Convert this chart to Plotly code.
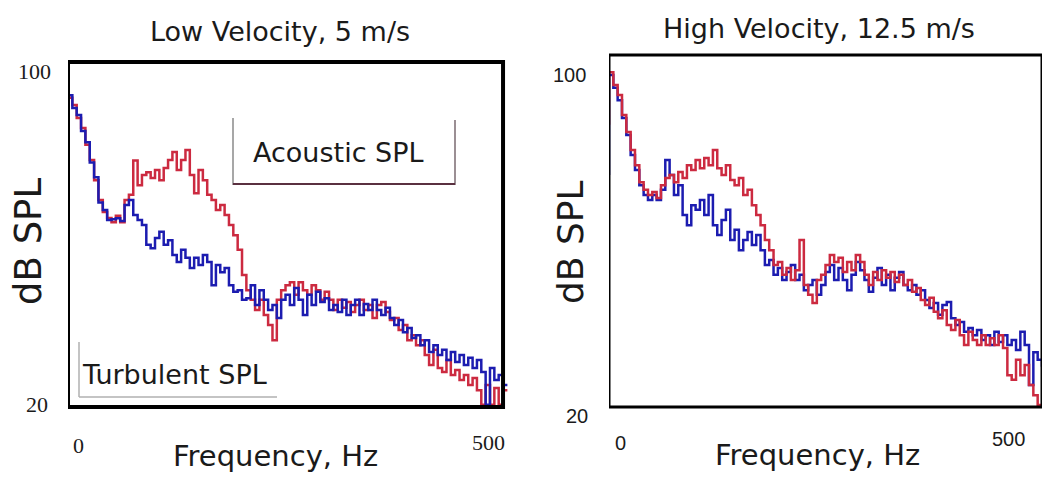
import plotly.graph_objects as go

W, H = 1044, 477

# Frequency bins (Hz)
FREQ_HZ = [
    0, 5, 10, 15, 20, 25, 30, 35, 40, 45,
    50, 55, 60, 65, 70, 75, 80, 85, 90, 95,
    100, 105, 110, 115, 120, 125, 130, 135, 140, 145,
    150, 155, 160, 165, 170, 175, 180, 185, 190, 195,
    200, 205, 210, 215, 220, 225, 230, 235, 240, 245,
    250, 255, 260, 265, 270, 275, 280, 285, 290, 295,
    300, 305, 310, 315, 320, 325, 330, 335, 340, 345,
    350, 355, 360, 365, 370, 375, 380, 385, 390, 395,
    400, 405, 410, 415, 420, 425, 430, 435, 440, 445,
    450, 455, 460, 465, 470, 475, 480, 485, 490, 495,
    500, 505,
]

# Low velocity (5 m/s), dB SPL
LOW_ACOUSTIC = [
    94.8, 92.9, 91.2, 88.1, 85.7, 81.7, 78.1, 73.3, 68.6, 65.7,
    64.3, 63.3, 64.8, 63.3, 68.6, 69.8, 78.0, 72.1, 74.5, 75.2,
    73.8, 75.7, 73.3, 76.2, 78.1, 80.0, 75.7, 78.1, 80.5, 74.5,
    70.2, 75.7, 73.3, 69.8, 68.6, 66.2, 67.4, 65.0, 62.6, 60.2,
    56.7, 50.7, 47.1, 44.8, 42.4, 44.8, 41.2, 38.8, 35.2, 44.8,
    47.1, 48.3, 49.0, 46.0, 49.0, 47.1, 46.0, 48.3, 47.1, 44.8,
    46.7, 44.8, 42.4, 44.8, 42.9, 44.3, 41.9, 43.6, 44.8, 42.4,
    43.6, 40.5, 43.6, 44.3, 41.9, 40.0, 40.5, 37.6, 38.8, 35.2,
    36.4, 34.0, 35.2, 31.7, 29.3, 32.9, 28.6, 27.6, 30.5, 26.9,
    28.1, 25.7, 26.9, 24.5, 26.2, 23.3, 19.8, 24.5, 19.8, 23.8,
    19.8, 23.3,
]
LOW_TURBULENT = [
    95.5, 93.5, 90.5, 88.8, 85.0, 82.3, 77.5, 74.0, 68.0, 66.2,
    63.8, 64.0, 64.2, 63.6, 67.4, 68.6, 65.0, 63.8, 62.6, 57.9,
    57.1, 59.5, 61.0, 57.9, 59.0, 55.5, 53.8, 56.7, 54.8, 52.4,
    54.8, 53.1, 55.5, 53.8, 48.3, 53.1, 51.4, 52.4, 48.3, 46.7,
    47.1, 44.8, 45.2, 48.3, 43.6, 47.1, 44.8, 42.4, 43.6, 40.5,
    44.8, 46.0, 43.6, 47.6, 44.8, 41.2, 46.0, 43.6, 46.7, 44.3,
    45.2, 42.4, 43.6, 41.9, 44.8, 41.2, 43.6, 44.8, 41.2, 43.8,
    42.4, 44.8, 42.4, 41.2, 42.9, 40.5, 38.8, 40.0, 37.1, 38.1,
    35.7, 36.4, 34.0, 35.2, 32.4, 34.0, 31.7, 32.9, 30.5, 32.4,
    30.0, 31.7, 29.3, 31.0, 28.6, 30.5, 27.6, 19.8, 28.6, 25.7,
    26.9, 24.5,
]

# High velocity (12.5 m/s), dB SPL
HIGH_ACOUSTIC = [
    87.1, 99.5, 96.5, 94.1, 89.4, 85.4, 81.2, 77.6, 73.6, 71.8,
    70.6, 71.3, 69.9, 72.9, 74.6, 75.3, 73.6, 76.0, 74.6, 77.6,
    76.5, 78.8, 76.9, 79.3, 77.6, 81.2, 76.9, 75.3, 77.6, 74.1,
    72.9, 74.6, 70.6, 71.8, 68.2, 65.9, 63.5, 60.0, 57.6, 54.1,
    54.8, 51.8, 53.4, 50.6, 52.9, 60.0, 49.4, 47.1, 45.2, 50.6,
    51.8, 54.1, 56.5, 54.8, 55.8, 52.5, 54.8, 52.9, 56.5, 54.8,
    51.8, 49.4, 52.5, 50.6, 52.9, 51.1, 52.5, 50.1, 51.8, 49.4,
    50.6, 47.8, 48.7, 45.9, 44.7, 46.4, 43.1, 41.6, 43.5, 40.0,
    38.8, 41.2, 37.6, 35.3, 38.4, 36.5, 35.3, 37.6, 35.3, 36.9,
    35.3, 37.6, 34.6, 28.2, 27.1, 31.8, 28.2, 30.6, 25.9, 23.5,
    21.2, 21.0,
]
HIGH_TURBULENT = [
    75.3, 98.8, 95.8, 92.9, 88.7, 84.7, 80.0, 76.5, 72.9, 70.6,
    69.4, 70.6, 69.4, 71.8, 78.8, 75.3, 70.6, 72.9, 65.9, 63.5,
    68.2, 67.1, 69.4, 65.9, 70.6, 63.5, 61.2, 64.7, 67.1, 60.0,
    62.4, 57.6, 60.0, 61.9, 58.8, 61.2, 57.6, 54.1, 55.3, 51.8,
    53.4, 50.6, 52.5, 54.1, 50.6, 51.8, 48.2, 49.4, 50.6, 47.1,
    49.4, 52.5, 54.1, 50.6, 53.4, 50.6, 48.2, 51.8, 54.8, 52.9,
    50.6, 47.8, 51.1, 53.4, 49.4, 51.8, 48.2, 51.1, 52.5, 49.4,
    48.2, 49.4, 47.1, 48.2, 45.9, 44.0, 45.2, 42.4, 44.7, 45.4,
    41.6, 40.0, 40.7, 38.4, 39.3, 37.6, 38.8, 36.5, 37.6, 35.3,
    38.4, 36.0, 37.6, 35.3, 36.5, 34.1, 38.4, 35.3, 25.9, 33.6,
    31.8, 30.5,
]

TITLES = ["Low Velocity, 5 m/s", "High Velocity, 12.5 m/s"]
X_LABEL = "Frequency, Hz"
Y_LABEL = "dB SPL"
Y_TICK_LABELS = ["100", "20"]
X_TICK_LABELS = ["0", "500"]

RED = "#cc2a40"
BLUE = "#1c1cb0"
SANS = "DejaVu Sans"


def px(x):
    return x / W


def py(y):
    return 1 - y / H


fig = go.Figure()

# Left panel: acoustic (red) under turbulent (blue)
fig.add_trace(go.Scatter(x=FREQ_HZ, y=LOW_ACOUSTIC, mode="lines", line_shape="vh",
                         line=dict(color=RED, width=2.5), xaxis="x", yaxis="y"))
fig.add_trace(go.Scatter(x=FREQ_HZ, y=LOW_TURBULENT, mode="lines", line_shape="vh",
                         line=dict(color=BLUE, width=2.5), xaxis="x", yaxis="y"))
# Right panel: turbulent (blue) under acoustic (red)
fig.add_trace(go.Scatter(x=FREQ_HZ, y=HIGH_TURBULENT, mode="lines", line_shape="vh",
                         line=dict(color=BLUE, width=2.5), xaxis="x2", yaxis="y2"))
fig.add_trace(go.Scatter(x=FREQ_HZ, y=HIGH_ACOUSTIC, mode="lines", line_shape="vh",
                         line=dict(color=RED, width=2.5), xaxis="x2", yaxis="y2"))

hidden = dict(showgrid=False, zeroline=False, showticklabels=False, ticks="", showline=False)

fig.update_layout(
    width=W, height=H,
    margin=dict(l=0, r=0, t=0, b=0),
    paper_bgcolor="white", plot_bgcolor="white",
    showlegend=False,
    xaxis=dict(domain=[px(68), px(510)], range=[0, 508], anchor="y", **hidden),
    yaxis=dict(domain=[py(407), py(62)], range=[19.29, 101.43], anchor="x", **hidden),
    xaxis2=dict(domain=[px(609), px(1042)], range=[0, 500], anchor="y2", **hidden),
    yaxis2=dict(domain=[py(407), py(55)], range=[20.71, 103.53], anchor="x2", **hidden),
)

# Plot frames
fig.add_shape(type="rect", xref="x", yref="y domain", x0=0, x1=500, y0=0, y1=1,
              line=dict(color="black", width=4))
fig.add_shape(type="rect", xref="x2", yref="y2 domain", x0=0, x1=500, y0=0, y1=1,
              line=dict(color="black", width=3))


def seg(x0, y0, x1, y1, color, width):
    fig.add_shape(type="line", xref="paper", yref="paper",
                  x0=px(x0), y0=py(y0), x1=px(x1), y1=py(y1),
                  line=dict(color=color, width=width))


# Label boxes
seg(233, 118, 233, 185, "#8a8a8a", 1.5)
seg(455, 120, 455, 185, "#7a6a70", 1.5)
seg(233, 184, 455, 184, "#5a3040", 2)
seg(79, 342, 79, 397, "#b0b0b0", 1.5)
seg(79, 397, 277, 397, "#b0b0b0", 1.5)


def text(x, y, s, size, family=SANS, angle=0):
    fig.add_annotation(x=px(x), y=py(y), xref="paper", yref="paper", text=s,
                       showarrow=False, xanchor="center", yanchor="middle",
                       textangle=angle, font=dict(family=family, size=size, color="#1a1a1a"))


# Titles
text(280, 31, TITLES[0], 27)
text(819, 28, TITLES[1], 27)
# Axis titles
text(275, 456, X_LABEL, 29)
text(817, 455, X_LABEL, 29)
text(29, 242, Y_LABEL, 37, angle=-90)
text(571, 242, Y_LABEL, 36, angle=-90)
# Tick labels
text(34, 71, Y_TICK_LABELS[0], 22, "Liberation Serif")
text(37, 404, Y_TICK_LABELS[1], 22, "Liberation Serif")
text(78, 445, X_TICK_LABELS[0], 22, "Liberation Serif")
text(488, 442, X_TICK_LABELS[1], 22, "Liberation Serif")
text(569, 75, Y_TICK_LABELS[0], 20, "Liberation Sans")
text(577, 416, Y_TICK_LABELS[1], 20, "Liberation Sans")
text(620, 443, X_TICK_LABELS[0], 20, "Liberation Sans")
text(1008, 439, X_TICK_LABELS[1], 20, "Liberation Sans")
# Series labels
text(338, 153, "Acoustic SPL", 27)
text(174, 374, "Turbulent SPL", 27)

# Page has default body margin; drop it so the figure sits at the window origin
fig.write_html("out.html", config={"displayModeBar": False},
               post_script="document.body.style.margin='0';")
